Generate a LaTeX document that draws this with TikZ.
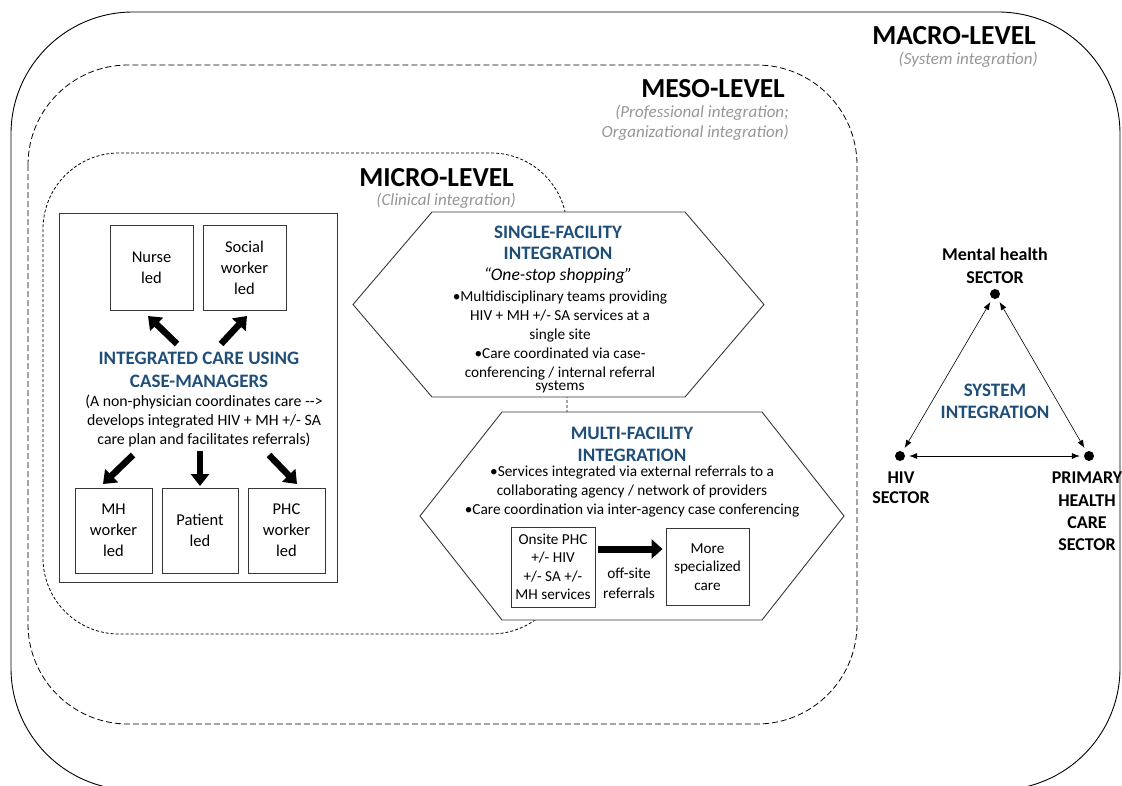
\documentclass[tikz,border=0pt]{standalone}
\usepackage{fontspec}
\setmainfont{Carlito}
\usepackage{tikz}
\usetikzlibrary{arrows.meta}
\definecolor{headblue}{RGB}{31,78,121}
\definecolor{subgray}{RGB}{150,150,150}
\definecolor{linegray}{RGB}{55,55,55}

\begin{document}
\begin{tikzpicture}[x=1pt,y=-1pt,
	level/.style={anchor=east,inner sep=0pt,font=\bfseries\fontsize{27.5}{28}\selectfont},
	sublevel/.style={anchor=east,inner sep=0pt,align=right,text=subgray,font=\itshape\fontsize{17}{20}\selectfont},
	box/.style={draw=linegray,line width=0.9pt,align=center,inner sep=0pt,font=\fontsize{16.5}{21}\selectfont},
	smallbox/.style={box,font=\fontsize{15.2}{18.5}\selectfont},
	head/.style={align=center,inner sep=0pt,text=headblue,font=\bfseries\fontsize{19}{22}\selectfont},
	body/.style={align=center,inner sep=0pt,font=\fontsize{15.3}{19}\selectfont},
	sector/.style={align=center,inner sep=0pt,font=\bfseries\fontsize{18}{22.3}\selectfont},
	dot/.style={circle,fill=black,inner sep=0pt,minimum size=10pt},
	fatarrow/.style={line width=6.5pt,-{Triangle[length=12pt,width=18pt]}},
	linkarrow/.style={line width=0.6pt,{Latex[length=8pt,width=6pt]}-{Latex[length=8pt,width=6pt]},shorten <=4pt,shorten >=4pt},
	hexagon/.style={draw=linegray,line width=0.9pt,fill=white}
]
	\useasboundingbox (0,0) rectangle (1122,785);
	\clip (0,0) rectangle (1122,785);

	% levels
	\draw[line width=0.9pt,rounded corners=122] (11,12) rectangle (1120,790);
	\draw[line width=0.8pt,dash pattern=on 6pt off 3pt,rounded corners=100] (28,65) rectangle (857,724);
	\draw[line width=0.8pt,dash pattern=on 3pt off 2pt,rounded corners=76] (43,153) rectangle (567,634);

	\node[level] (macro) at (1036,36) {MACRO-LEVEL};
	\node[sublevel] (macrosub) at (1038,60) {(System integration)};
	\node[level] (meso) at (785,89) {MESO-LEVEL};
	\node[sublevel] (mesosub) at (789,123) {(Professional integration;\\Organizational integration)};
	\node[level] (micro) at (514,178) {MICRO-LEVEL};
	\node[sublevel] (microsub) at (516,201) {(Clinical integration)};

	% case managers
	\draw[draw=linegray,line width=0.9pt] (59,213) rectangle (337,582);
	\node[box,minimum width=83pt,minimum height=85pt] (nurse) at (151.5,267.5) {Nurse\\led};
	\node[box,minimum width=83pt,minimum height=85pt] (social) at (244.5,267.5) {Social\\worker\\led};
	\node[head,font=\bfseries\fontsize{19}{23}\selectfont] (cm) at (199,370) {INTEGRATED CARE USING\\CASE-MANAGERS};
	\node[body,font=\fontsize{15.8}{19}\selectfont] (cmtext) at (204,421) {(A non-physician coordinates care -{}->\\develops integrated HIV + MH +/- SA\\care plan and facilitates referrals)};
	\node[box,minimum width=77pt,minimum height=85pt] (mhw) at (113.5,530.5) {MH\\worker\\led};
	\node[box,minimum width=76pt,minimum height=85pt] (patient) at (200,530.5) {Patient\\led};
	\node[box,minimum width=77pt,minimum height=85pt] (phcw) at (286.5,530.5) {PHC\\worker\\led};

	\coordinate (c1) at (177,344);
	\coordinate (c2) at (221,344);
	\coordinate (c3) at (133,455);
	\coordinate (c4) at (200,451);
	\coordinate (c5) at (269,455);
	\draw[fatarrow] (c1) -- (148,316);
	\draw[fatarrow] (c2) -- (247,316);
	\draw[fatarrow] (c3) -- (103,484);
	\draw[fatarrow] (c4) -- (200,486);
	\draw[fatarrow] (c5) -- (297,484);

	% single facility
	\draw[hexagon] (432,212) -- (685,212) -- (764,304.5) -- (685,397) -- (432,397) -- (353,304.5) -- cycle;
	\node[head,font=\bfseries\fontsize{19}{21}\selectfont] (single) at (558,243) {SINGLE-FACILITY\\INTEGRATION};
	\node[body,font=\itshape\fontsize{17.6}{19}\selectfont] (shop) at (558,276) {“One-stop shopping”};
	\node[body] (singletext) at (560,335) {\textbullet Multidisciplinary teams providing\\HIV + MH +/- SA services at a\\single site\\\textbullet Care coordinated via case-\\conferencing / internal referral};
	\node[body] (systems) at (560,387) {systems};

	% multi facility
	\draw[hexagon] (502,412) -- (762,412) -- (844,516) -- (762,620) -- (502,620) -- (420,516) -- cycle;
	\node[head] (multi) at (632,444) {MULTI-FACILITY\\INTEGRATION};
	\node[body] (multitext) at (632,491) {\textbullet Services integrated via external referrals to a\\collaborating agency / network of providers\\\textbullet Care coordination via inter-agency case conferencing};
	\node[smallbox,minimum width=84pt,minimum height=80pt] (onsite) at (553,567) {Onsite PHC\\+/- HIV\\+/- SA +/-\\MH services};
	\node[smallbox,minimum width=83pt,minimum height=77pt] (more) at (707.5,567) {More\\specialized\\care};
	\node[body,font=\fontsize{15.3}{20}\selectfont] (offsite) at (629,583) {off-site\\referrals};
	\draw[line width=7pt,-{Triangle[length=11pt,width=19pt]}] ([xshift=3pt,yshift=18pt]onsite.east) -- ([xshift=-3pt,yshift=18pt]more.west);

	% system integration
	\node[dot] (mh) at (995,294) {};
	\node[dot] (hiv) at (900,456) {};
	\node[dot] (phc) at (1089,456) {};
	\draw[linkarrow] (mh) -- (hiv);
	\draw[linkarrow] (mh) -- (phc);
	\draw[linkarrow] (hiv) -- (phc);
	\node[sector,font=\bfseries\fontsize{18}{23}\selectfont] (mhlabel) at (995,266) {Mental health\\SECTOR};
	\node[sector,font=\bfseries\fontsize{18}{20}\selectfont] (hivlabel) at (901,488) {HIV\\SECTOR};
	\node[sector] (phclabel) at (1087,511.5) {PRIMARY\\HEALTH\\CARE\\SECTOR};
	\node[head] (sys) at (995,401) {SYSTEM\\INTEGRATION};
\end{tikzpicture}
\end{document}
